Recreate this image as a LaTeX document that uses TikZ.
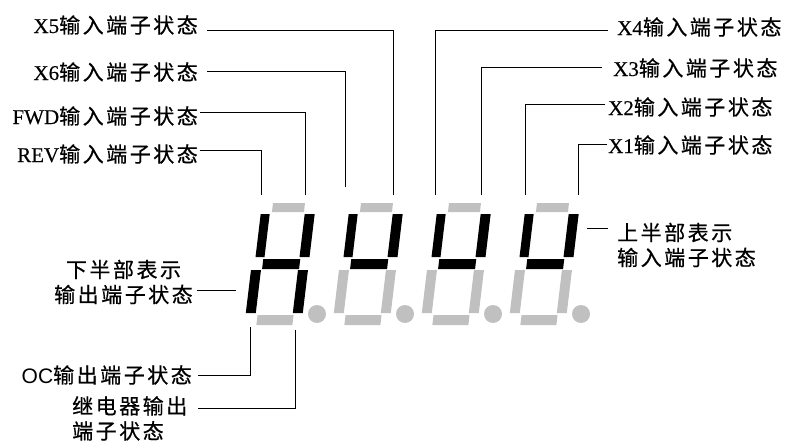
\documentclass[tikz,border=0pt]{standalone}
\usepackage{fontspec}
\setmainfont[LetterSpace=12, FakeBold=0.6]{Noto Sans CJK SC}
\newfontfamily\lat[FakeBold=0.3]{Liberation Serif}
\newfontfamily\latsf{Liberation Sans}
\definecolor{segoff}{RGB}{192,192,192}
% one slanted digit: origin x, then colours of a f b g e c d
\newcommand{\ledchar}[8]{%
	\begin{scope}[shift={(#1,203)}, xslant=.12]
		\fill[#2] (0,0) rectangle (32,9);%a
		\fill[#3] (-11,11) rectangle (-2,54);%f
		\fill[#4] (33,11) rectangle (43,54);%b
		\fill[#5] (-3,56) rectangle (34,66);%g
		\fill[#6] (-14,67) rectangle (-4,110);%e
		\fill[#7] (33,67) rectangle (43,110);%c
		\fill[#8] (-2,112) rectangle (34,122);%d
	\end{scope}
	\fill[segoff] (#1+44,314) circle (9pt);%dp
}
\begin{document}
\begin{tikzpicture}[x=1pt, y=-1pt, lbl/.style={inner sep=0pt, font=\fontsize{21}{25}\selectfont}, lead/.style={line width=1pt}]
	\useasboundingbox (0,0) rectangle (788,447);
	\ledchar{273}{segoff}{black}{black}{black}{black}{black}{segoff}
	\foreach \x in {361,449,537}{\ledchar{\x}{segoff}{black}{black}{black}{segoff}{segoff}{segoff}}
	% ends of the leaders
	\coordinate (trev) at (261,195); \coordinate (tfwd) at (305,195);
	\coordinate (tx6) at (345,187); \coordinate (tx5) at (393,195);
	\coordinate (tx4) at (435,195); \coordinate (tx3) at (481,195);
	\coordinate (tx2) at (525,195); \coordinate (tx1) at (578,195);
	\coordinate (boc) at (250,327); \coordinate (brel) at (295,330);
	\coordinate (lowend) at (236,290); \coordinate (upend) at (587,228);
	\coordinate (relbeg) at (198,408);
	% upper labels
	\node[lbl, anchor=east] (x5) at (198,25) {{\lat X5}输入端子状态};
	\node[lbl, anchor=east] (x6) at (198,72) {{\lat X6}输入端子状态};
	\node[lbl, anchor=east] (fwd) at (198,116) {{\lat FWD}输入端子状态};
	\node[lbl, anchor=east] (rev) at (198,154) {{\lat REV}输入端子状态};
	\node[lbl, anchor=west] (x4) at (617,27) {{\lat X4}输入端子状态};
	\node[lbl, anchor=west] (x3) at (613,68) {{\lat X3}输入端子状态};
	\node[lbl, anchor=west] (x2) at (608,107) {{\lat X2}输入端子状态};
	\node[lbl, anchor=west] (x1) at (608,145) {{\lat X1}输入端子状态};
	\draw[lead] ([xshift=9pt,yshift=-5pt]x5.east) -| (tx5);
	\draw[lead] ([xshift=9pt,yshift=1pt]x6.east) -| (tx6);
	\draw[lead] ([xshift=2pt,yshift=4pt]fwd.east) -| (tfwd);
	\draw[lead] ([xshift=2pt,yshift=4pt]rev.east) -| (trev);
	\draw[lead] ([xshift=-9pt,yshift=-3pt]x4.west) -| (tx4);
	\draw[lead] ([xshift=-11pt,yshift=1pt]x3.west) -| (tx3);
	\draw[lead] ([xshift=-3pt,yshift=3pt]x2.west) -| (tx2);
	\draw[lead] ([xshift=-1pt,yshift=1pt]x1.west) -| (tx1);
	% side and lower labels
	\node[lbl, align=center, anchor=east] (low) at (193,282) {下半部表示\\输出端子状态};
	\node[lbl, align=left, anchor=west] (up) at (617,245) {上半部表示\\输入端子状态};
	\node[lbl, anchor=east] (oc) at (192,375) {{\latsf OC}输出端子状态};
	\node[lbl, align=left, anchor=north west] (relay) at (72,396) {继电器输出\\端子状态};
	\draw[lead] ([xshift=4pt]low.east |- lowend) -- (lowend);
	\draw[lead] (upend) -- ([xshift=-9pt]up.west |- upend);
	\draw[lead] ([xshift=6pt]oc.east) -| (boc);
	\draw[lead] (relbeg) -| (brel);
\end{tikzpicture}
\end{document}
